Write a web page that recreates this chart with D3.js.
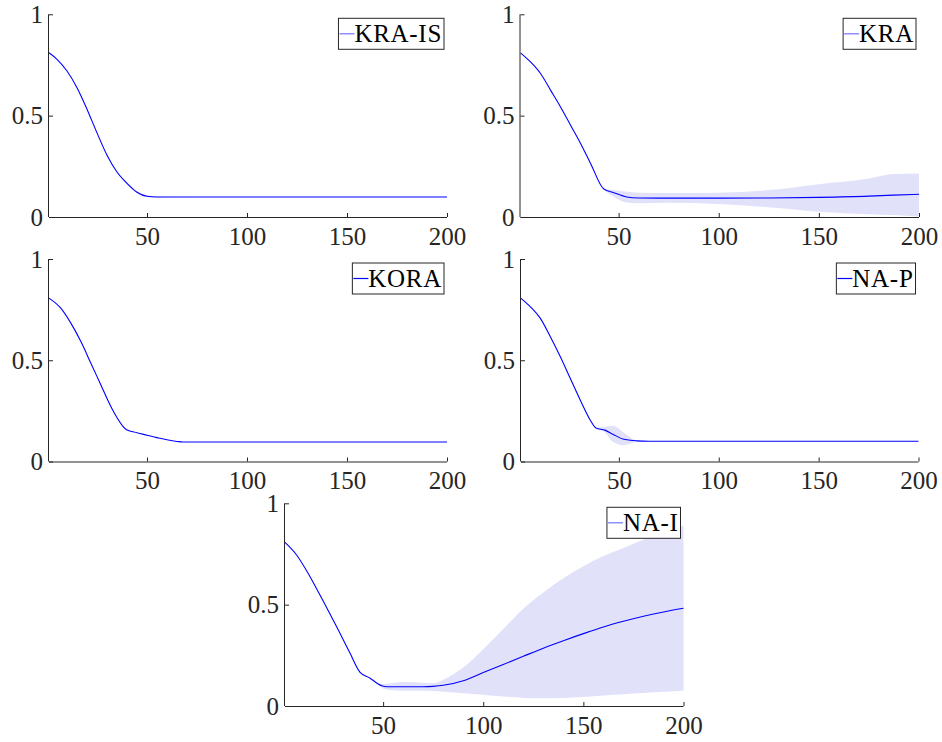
<!DOCTYPE html>
<meta charset="utf-8">
<style>
body { margin: 0; background: #fff; }
.axis path, .axis line { stroke: #262626; }
</style>
<script src="https://d3js.org/d3.v7.min.js"></script>
<svg width="942" height="742"></svg>
<script>

var svg = d3.select("svg");
var fontFam = "'Liberation Serif', 'DejaVu Serif', serif";

// tick values shared by every panel
var xTicks = [50, 100, 150, 200];
var yTicks = [0, 0.5, 1];
var yTickLabels = ["0", "0.5", "1"];

// KRA-IS
var xKraIs = [1, 5, 10, 15, 20, 25, 30, 35, 40, 45, 50, 55, 60, 100, 150, 200];
var meanKraIs = [0.81, 0.778, 0.72, 0.638, 0.532, 0.415, 0.305, 0.222, 0.166, 0.122, 0.102, 0.099, 0.099, 0.099, 0.099, 0.099];
var loKraIs = [0.81, 0.778, 0.72, 0.638, 0.532, 0.415, 0.305, 0.22, 0.161, 0.117, 0.097, 0.096, 0.098, 0.099, 0.099, 0.099];
var hiKraIs = [0.81, 0.778, 0.72, 0.638, 0.532, 0.415, 0.305, 0.224, 0.171, 0.128, 0.107, 0.102, 0.1, 0.099, 0.099, 0.099];

// KRA
var xKra = [1, 6, 11, 16, 21, 26, 31, 36, 42.6, 47.6, 54, 60, 75, 100, 125, 150, 175, 187, 200];
var meanKra = [0.81, 0.765, 0.708, 0.626, 0.543, 0.453, 0.363, 0.264, 0.138, 0.12, 0.099, 0.094, 0.093, 0.093, 0.094, 0.097, 0.103, 0.108, 0.112];
var loKra = [0.81, 0.765, 0.708, 0.626, 0.543, 0.453, 0.363, 0.264, 0.138, 0.1, 0.072, 0.068, 0.07, 0.064, 0.048, 0.026, 0.014, 0.01, 0.002];
var hiKra = [0.81, 0.765, 0.708, 0.626, 0.543, 0.453, 0.363, 0.264, 0.138, 0.133, 0.124, 0.12, 0.118, 0.12, 0.133, 0.162, 0.19, 0.212, 0.215];

// KORA
var xKora = [1, 7, 12, 17, 22, 27, 32, 39.8, 45, 50, 55, 60, 65, 68, 100, 150, 200];
var meanKora = [0.807, 0.756, 0.682, 0.591, 0.484, 0.377, 0.27, 0.157, 0.142, 0.13, 0.118, 0.107, 0.099, 0.096, 0.096, 0.096, 0.096];

// NA-P
var xNaP = [1, 5.7, 10.7, 15.7, 20.7, 25.7, 30.7, 35.7, 38.5, 43, 47, 52, 59, 65, 100, 150, 200];
var meanNaP = [0.806, 0.764, 0.707, 0.616, 0.517, 0.41, 0.303, 0.204, 0.166, 0.155, 0.135, 0.111, 0.102, 0.1, 0.1, 0.1, 0.1];
var loNaP = [0.806, 0.764, 0.707, 0.616, 0.517, 0.41, 0.303, 0.204, 0.166, 0.145, 0.097, 0.08, 0.098, 0.1, 0.1, 0.1, 0.1];
var hiNaP = [0.806, 0.764, 0.707, 0.616, 0.517, 0.41, 0.303, 0.204, 0.166, 0.172, 0.176, 0.146, 0.104, 0.1, 0.1, 0.1, 0.1];

// NA-I
var xNaI = [1, 6.8, 13.5, 20.2, 26.8, 33.5, 38.5, 43.5, 49.3, 52, 60, 70, 75, 80, 90, 100, 110, 120, 130, 140, 150, 160, 170, 180, 190, 200];
var meanNaI = [0.807, 0.745, 0.638, 0.515, 0.391, 0.26, 0.166, 0.137, 0.1, 0.095, 0.095, 0.095, 0.097, 0.102, 0.125, 0.165, 0.205, 0.245, 0.285, 0.322, 0.357, 0.39, 0.418, 0.443, 0.464, 0.482];
var loNaI = [0.807, 0.745, 0.638, 0.515, 0.391, 0.26, 0.166, 0.137, 0.09, 0.08, 0.075, 0.075, 0.074, 0.07, 0.063, 0.056, 0.047, 0.04, 0.038, 0.04, 0.045, 0.052, 0.058, 0.064, 0.07, 0.075];
var hiNaI = [0.807, 0.745, 0.638, 0.515, 0.391, 0.26, 0.166, 0.137, 0.108, 0.11, 0.118, 0.115, 0.112, 0.13, 0.19, 0.28, 0.38, 0.48, 0.56, 0.63, 0.69, 0.74, 0.78, 0.82, 0.86, 0.89];

var panels = [
  { name: "KRA-IS", x: xKraIs, mean: meanKraIs, lo: loKraIs, hi: hiKraIs, box: [49, 14.3, 447, 217], legAlpha: 0.55 },
  { name: "KRA", x: xKra, mean: meanKra, lo: loKra, hi: hiKra, box: [520.5, 14.3, 919, 217], legAlpha: 0.55 },
  { name: "KORA", x: xKora, mean: meanKora, lo: null, hi: null, box: [49, 259, 447, 461.5], legAlpha: 1 },
  { name: "NA-P", x: xNaP, mean: meanNaP, lo: loNaP, hi: hiNaP, box: [521, 259, 918.5, 461.5], legAlpha: 1 },
  { name: "NA-I", x: xNaI, mean: meanNaI, lo: loNaI, hi: hiNaI, box: [285, 503.3, 683.5, 706], legAlpha: 0.55 }
];

panels.forEach(function(p) {
  var b = p.box;
  var x = d3.scaleLinear().domain([1, 200]).range([b[0], b[2]]);
  var y = d3.scaleLinear().domain([0, 1]).range([b[3], b[1]]);
  var g = svg.append("g");

  var pts = p.x.map(function(v, i) { return i; });

  if (p.lo) {
    var area = d3.area()
        .x(function(i) { return x(p.x[i]); })
        .y0(function(i) { return y(p.lo[i]); })
        .y1(function(i) { return y(p.hi[i]); })
        .curve(d3.curveMonotoneX);
    g.append("path")
        .attr("d", area(pts))
        .attr("fill", "#e1e1fa")
        .attr("stroke", "none");
  }

  var line = d3.line()
      .x(function(i) { return x(p.x[i]); })
      .y(function(i) { return y(p.mean[i]); })
      .curve(d3.curveMonotoneX);

  g.append("path")
      .attr("d", line(pts))
      .attr("fill", "none")
      .attr("stroke", "#0000ff")
      .attr("stroke-width", 1.1);

  var ax = g.append("g")
      .attr("class", "axis")
      .attr("transform", "translate(0," + b[3] + ")")
      .call(d3.axisBottom(x).tickValues(xTicks).tickSize(-4).tickSizeOuter(0).tickPadding(10));
  ax.select(".domain").attr("d", "M" + b[0] + ",0.5H" + b[2]);

  var ay = g.append("g")
      .attr("class", "axis")
      .attr("transform", "translate(" + b[0] + ",0)")
      .call(d3.axisLeft(y).tickValues(yTicks).tickSize(-4).tickSizeOuter(0).tickPadding(6)
        .tickFormat(function(d, i) { return yTickLabels[i]; }));
  ay.select(".domain").attr("d", "M-0.5," + b[1] + "V" + b[3]);

  [ax, ay].forEach(function(a) {
    a.attr("font-family", fontFam).attr("font-size", 25);
    a.selectAll("text").style("font-family", fontFam).style("font-size", "25px").attr("fill", "#262626");
  });

  // legend
  var leg = g.append("g").attr("class", "legend");
  var rect = leg.append("rect")
      .attr("height", 31)
      .attr("fill", "#fff")
      .attr("stroke", "#262626")
      .attr("stroke-width", 1);
  leg.append("line")
      .attr("x1", 1).attr("x2", 16)
      .attr("y1", 15.5).attr("y2", 15.5)
      .attr("stroke", "#0000ff")
      .attr("stroke-opacity", p.legAlpha)
      .attr("stroke-width", 1.2);
  var txt = leg.append("text")
      .attr("x", 16)
      .attr("y", 23.5)
      .style("font-family", fontFam)
      .style("font-size", "25px")
      .style("letter-spacing", "0.7px")
      .attr("fill", "#000")
      .text(p.name);
  var w = 16 + txt.node().getComputedTextLength() + 2;
  rect.attr("width", w);
  leg.attr("transform", "translate(" + (b[2] - 3 - w) + "," + (b[1] + 4) + ")");
});

</script>
